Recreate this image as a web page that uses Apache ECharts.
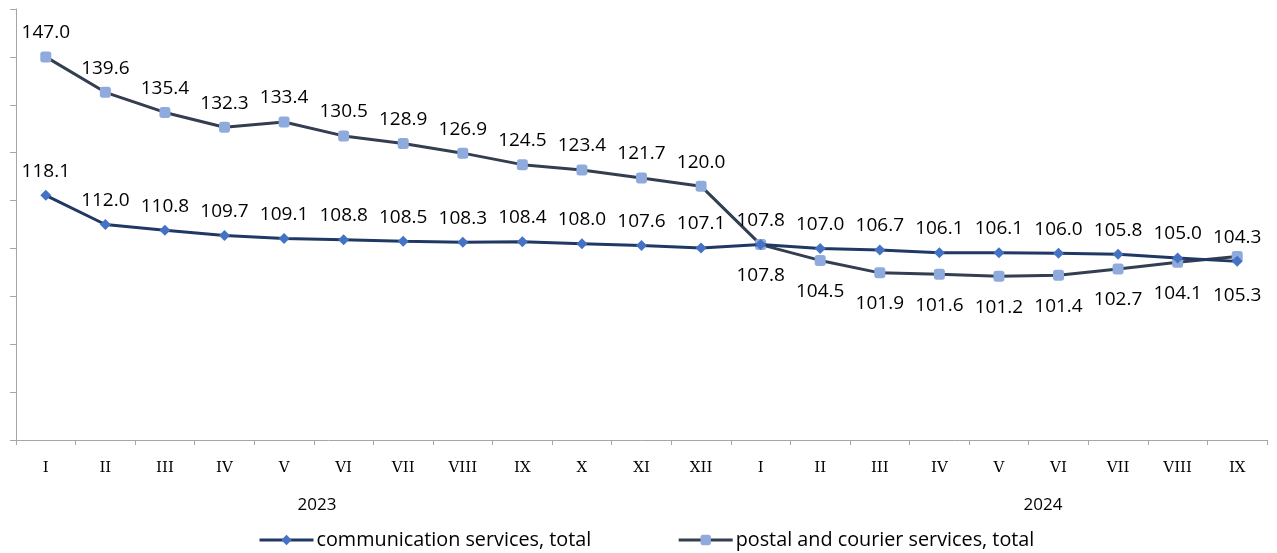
<!DOCTYPE html>
<html>
<head>
<meta charset="utf-8">
<script src="https://cdn.jsdelivr.net/npm/echarts@6/dist/echarts.min.js"></script>
<style>
html,body{margin:0;padding:0;background:#fff;}
#c{width:1277px;height:553px;}
</style>
</head>
<body>
<div id="c"></div>
<script>
var months = ['I','II','III','IV','V','VI','VII','VIII','IX','X','XI','XII','I','II','III','IV','V','VI','VII','VIII','IX'];
var years = ['2023','2024'];
var communication = [118.1,112.0,110.8,109.7,109.1,108.8,108.5,108.3,108.4,108.0,107.6,107.1,107.8,107.0,106.7,106.1,106.1,106.0,105.8,105.0,104.3];
var postal = [147.0,139.6,135.4,132.3,133.4,130.5,128.9,126.9,124.5,123.4,121.7,120.0,107.8,104.5,101.9,101.6,101.2,101.4,102.7,104.1,105.3];
var seriesNames = ['communication services, total','postal and courier services, total'];
var yTicks = [67,77,87,97,107,117,127,137,147,157];

var sans = '"Open Sans", "Noto Sans", sans-serif';
var chart = echarts.init(document.getElementById('c'), null, {renderer:'canvas'});

function postalData(){
  return postal.map(function(v,i){
    if (i < 12) return v;
    var d = (i === postal.length - 1) ? 24 : 16;
    return {value:v, label:{position:'bottom', distance:d}};
  });
}

var labelFmt = function(p){return Number(p.value).toFixed(1);};

chart.setOption({
  animation:false,
  grid:{left:16, right:10, top:9, bottom:113, containLabel:false},
  xAxis:{
    type:'category', data:months, boundaryGap:true,
    axisLine:{lineStyle:{color:'#a6a6a6', width:1}},
    axisTick:{show:true, length:5, lineStyle:{color:'#a6a6a6'}},
    axisLabel:{color:'#000', fontFamily:'"DejaVu Serif", "Liberation Serif", serif', fontSize:15, margin:21, interval:0}
  },
  yAxis:{
    type:'value', min:yTicks[0], max:yTicks[yTicks.length-1],
    axisLine:{show:true, lineStyle:{color:'#a6a6a6', width:1}},
    axisTick:{show:true, length:6, lineStyle:{color:'#a6a6a6'}, customValues:yTicks},
    axisLabel:{show:false, customValues:yTicks},
    splitLine:{show:false}
  },
  legend:{
    top:530, left:258, padding:0, itemWidth:54, itemHeight:13, itemGap:86,
    lineStyle:{width:3},
    textStyle:{color:'#000', fontFamily:sans, fontSize:19.8, padding:[0,0,0,-2]},
    data:seriesNames
  },
  graphic:[
    {type:'text', x:317, y:497, style:{text:years[0], fill:'#000', font:'17px ' + sans, align:'center'}},
    {type:'text', x:1043, y:497, style:{text:years[1], fill:'#000', font:'17px ' + sans, align:'center'}}
  ],
  series:[
    {
      name:seriesNames[0], type:'line', data:communication,
      symbol:'diamond', symbolSize:11,
      itemStyle:{color:'#4472c4'},
      lineStyle:{color:'#203864', width:3},
      label:{show:true, position:'top', distance:9, color:'#000', fontFamily:sans, fontSize:19, formatter:labelFmt},
      z:3
    },
    {
      name:seriesNames[1], type:'line', data:postalData(),
      symbol:'roundRect', symbolSize:11,
      itemStyle:{color:'#8faadc'},
      lineStyle:{color:'#333f50', width:3},
      label:{show:true, position:'top', distance:9, color:'#000', fontFamily:sans, fontSize:19, formatter:labelFmt},
      z:2
    }
  ]
});
</script>
</body>
</html>
